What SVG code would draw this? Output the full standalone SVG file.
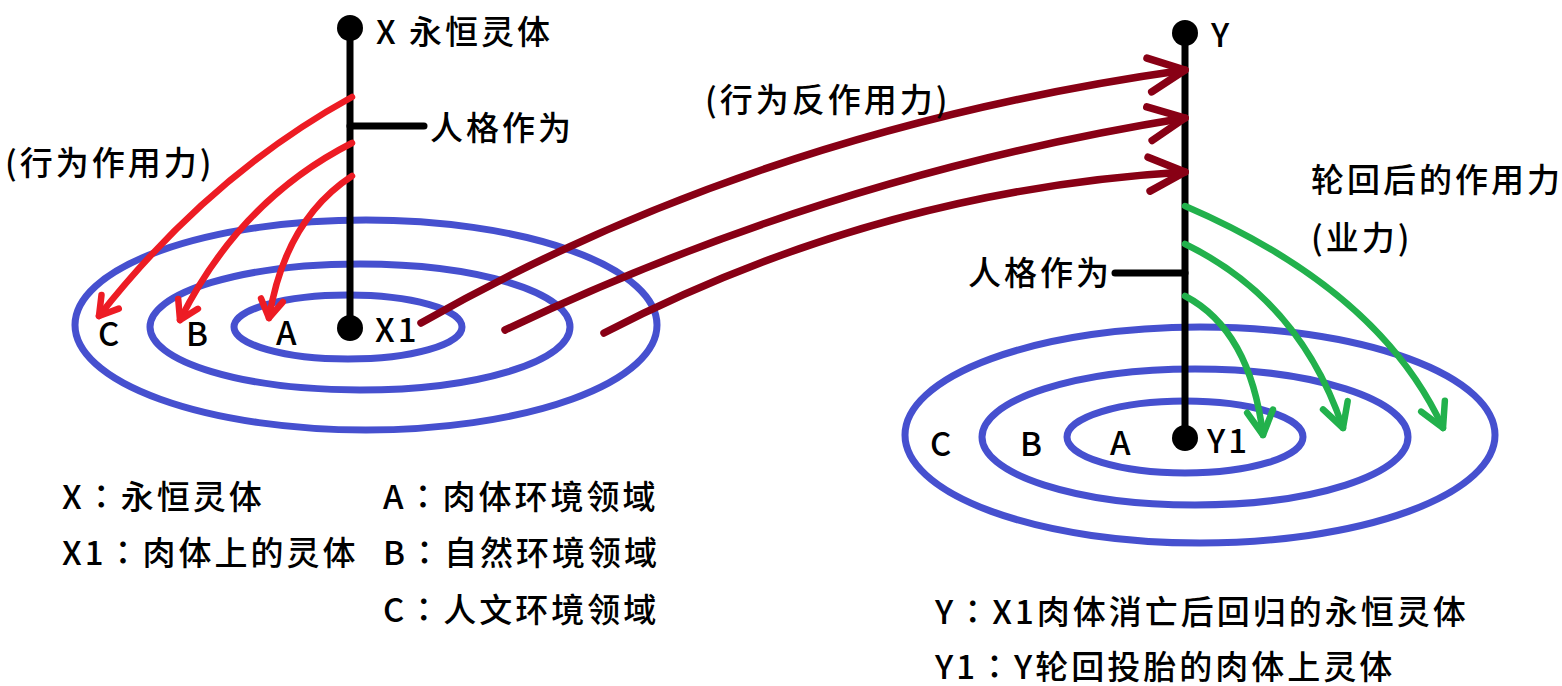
<svg xmlns="http://www.w3.org/2000/svg" width="1562" height="686" viewBox="0 0 1562 686">
<style>
.t{font-family:"Noto Sans CJK SC","Noto Sans",sans-serif;font-size:33px;font-weight:500;fill:#000;letter-spacing:3px}
.c{font-family:"Noto Sans CJK TC","Noto Sans CJK SC",sans-serif}
.ring{fill:none;stroke:#4650CF;stroke-width:7}
.axis{stroke:#000;stroke-width:7;stroke-linecap:round;fill:none}
.red{fill:none;stroke:#ED1C24;stroke-width:6.5;stroke-linecap:round}
.dred{fill:none;stroke:#880015;stroke-width:7.5;stroke-linecap:round}
.grn{fill:none;stroke:#22B14C;stroke-width:6.5;stroke-linecap:round}
</style>
<defs>
<marker id="mr" markerUnits="userSpaceOnUse" markerWidth="60" markerHeight="60" refX="0" refY="0" viewBox="-30 -30 60 60" orient="auto" overflow="visible">
<path d="M-18,-11 L0,0 L-18,11" fill="none" stroke="#ED1C24" stroke-width="6.5" stroke-linecap="round" stroke-linejoin="round"/>
</marker>
<marker id="md" markerUnits="userSpaceOnUse" markerWidth="90" markerHeight="90" refX="0" refY="0" viewBox="-45 -45 90 90" orient="auto" overflow="visible">
<path d="M-36,-17 L0,0 L-36,17" fill="none" stroke="#880015" stroke-width="7.5" stroke-linecap="round" stroke-linejoin="round"/>
</marker>
<marker id="mg" markerUnits="userSpaceOnUse" markerWidth="70" markerHeight="70" refX="0" refY="0" viewBox="-35 -35 70 70" orient="auto" overflow="visible">
<path d="M-24,-13 L0,0 L-24,13" fill="none" stroke="#22B14C" stroke-width="6.5" stroke-linecap="round" stroke-linejoin="round"/>
</marker>
</defs>
<rect width="1562" height="686" fill="#fff"/>

<g id="rings-x">
<ellipse class="ring" cx="366" cy="325" rx="291" ry="105"/>
<ellipse class="ring" cx="360" cy="327" rx="210" ry="63"/>
<ellipse class="ring" cx="348" cy="327" rx="114" ry="32"/>
</g>
<g id="rings-y">
<ellipse class="ring" cx="1200" cy="435" rx="295" ry="108"/>
<ellipse class="ring" cx="1195" cy="437" rx="213" ry="68"/>
<ellipse class="ring" cx="1185" cy="437" rx="118" ry="36"/>
</g>

<g id="node-x">
<line class="axis" x1="350" y1="28" x2="350" y2="328"/>
<line class="axis" x1="350" y1="126" x2="424" y2="126"/>
<circle cx="350" cy="28" r="13" fill="#000"/>
<circle cx="350" cy="328" r="13" fill="#000"/>
<text class="t" x="376" y="44">X 永恒灵体</text>
<text class="t" x="430" y="140">人格作为</text>
<text class="t" x="375" y="342">X1</text>
<text class="t" x="98" y="346">C</text>
<text class="t" x="186" y="346">B</text>
<text class="t" x="276" y="345">A</text>
</g>

<g id="node-y">
<line class="axis" x1="1185" y1="33" x2="1185" y2="438"/>
<line class="axis" x1="1115" y1="273" x2="1185" y2="273"/>
<circle cx="1185" cy="33" r="13" fill="#000"/>
<circle cx="1185" cy="438" r="13" fill="#000"/>
<text class="t" x="1211" y="47">Y</text>
<text class="t" x="968" y="285">人格作为</text>
<text class="t" x="1207" y="453">Y1</text>
<text class="t" x="930" y="456">C</text>
<text class="t" x="1020" y="456">B</text>
<text class="t" x="1110" y="455">A</text>
</g>

<g id="connectors">
<path class="red" d="M352,97 Q210,175 99,316" marker-end="url(#mr)"/>
<path class="red" d="M352,143 Q240,200 180,320" marker-end="url(#mr)"/>
<path class="red" d="M352,176 Q285,220 269,318" marker-end="url(#mr)"/>
<path class="dred" d="M421,323 Q760,130 1185,70" marker-end="url(#md)"/>
<path class="dred" d="M505,330 Q830,175 1185,118" marker-end="url(#md)"/>
<path class="dred" d="M604,333 Q880,190 1185,172" marker-end="url(#md)"/>
<path class="grn" d="M1185,206 Q1380,290 1443,428" marker-end="url(#mg)"/>
<path class="grn" d="M1185,244 Q1300,300 1343,428" marker-end="url(#mg)"/>
<path class="grn" d="M1185,296 Q1250,330 1263,435" marker-end="url(#mg)"/>
</g>

<g id="labels">
<text class="t" x="5" y="175">(行为作用力)</text>
<text class="t" x="705" y="112">(行为反作用力)</text>
<text class="t" x="1311" y="192">轮回后的作用力</text>
<text class="t" x="1311" y="250">(业力)</text>
</g>

<g id="legend">
<text class="t" x="62" y="509">X<tspan class="c">：</tspan>永恒灵体</text>
<text class="t" x="62" y="565">X1<tspan class="c">：</tspan>肉体上的灵体</text>
<text class="t" x="383" y="509">A<tspan class="c">：</tspan>肉体环境领域</text>
<text class="t" x="383" y="565">B<tspan class="c">：</tspan>自然环境领域</text>
<text class="t" x="383" y="622">C<tspan class="c">：</tspan>人文环境领域</text>
<text class="t" x="935" y="624">Y<tspan class="c">：</tspan>X1肉体消亡后回归的永恒灵体</text>
<text class="t" x="935" y="679">Y1<tspan class="c">：</tspan>Y轮回投胎的肉体上灵体</text>
</g>
</svg>
